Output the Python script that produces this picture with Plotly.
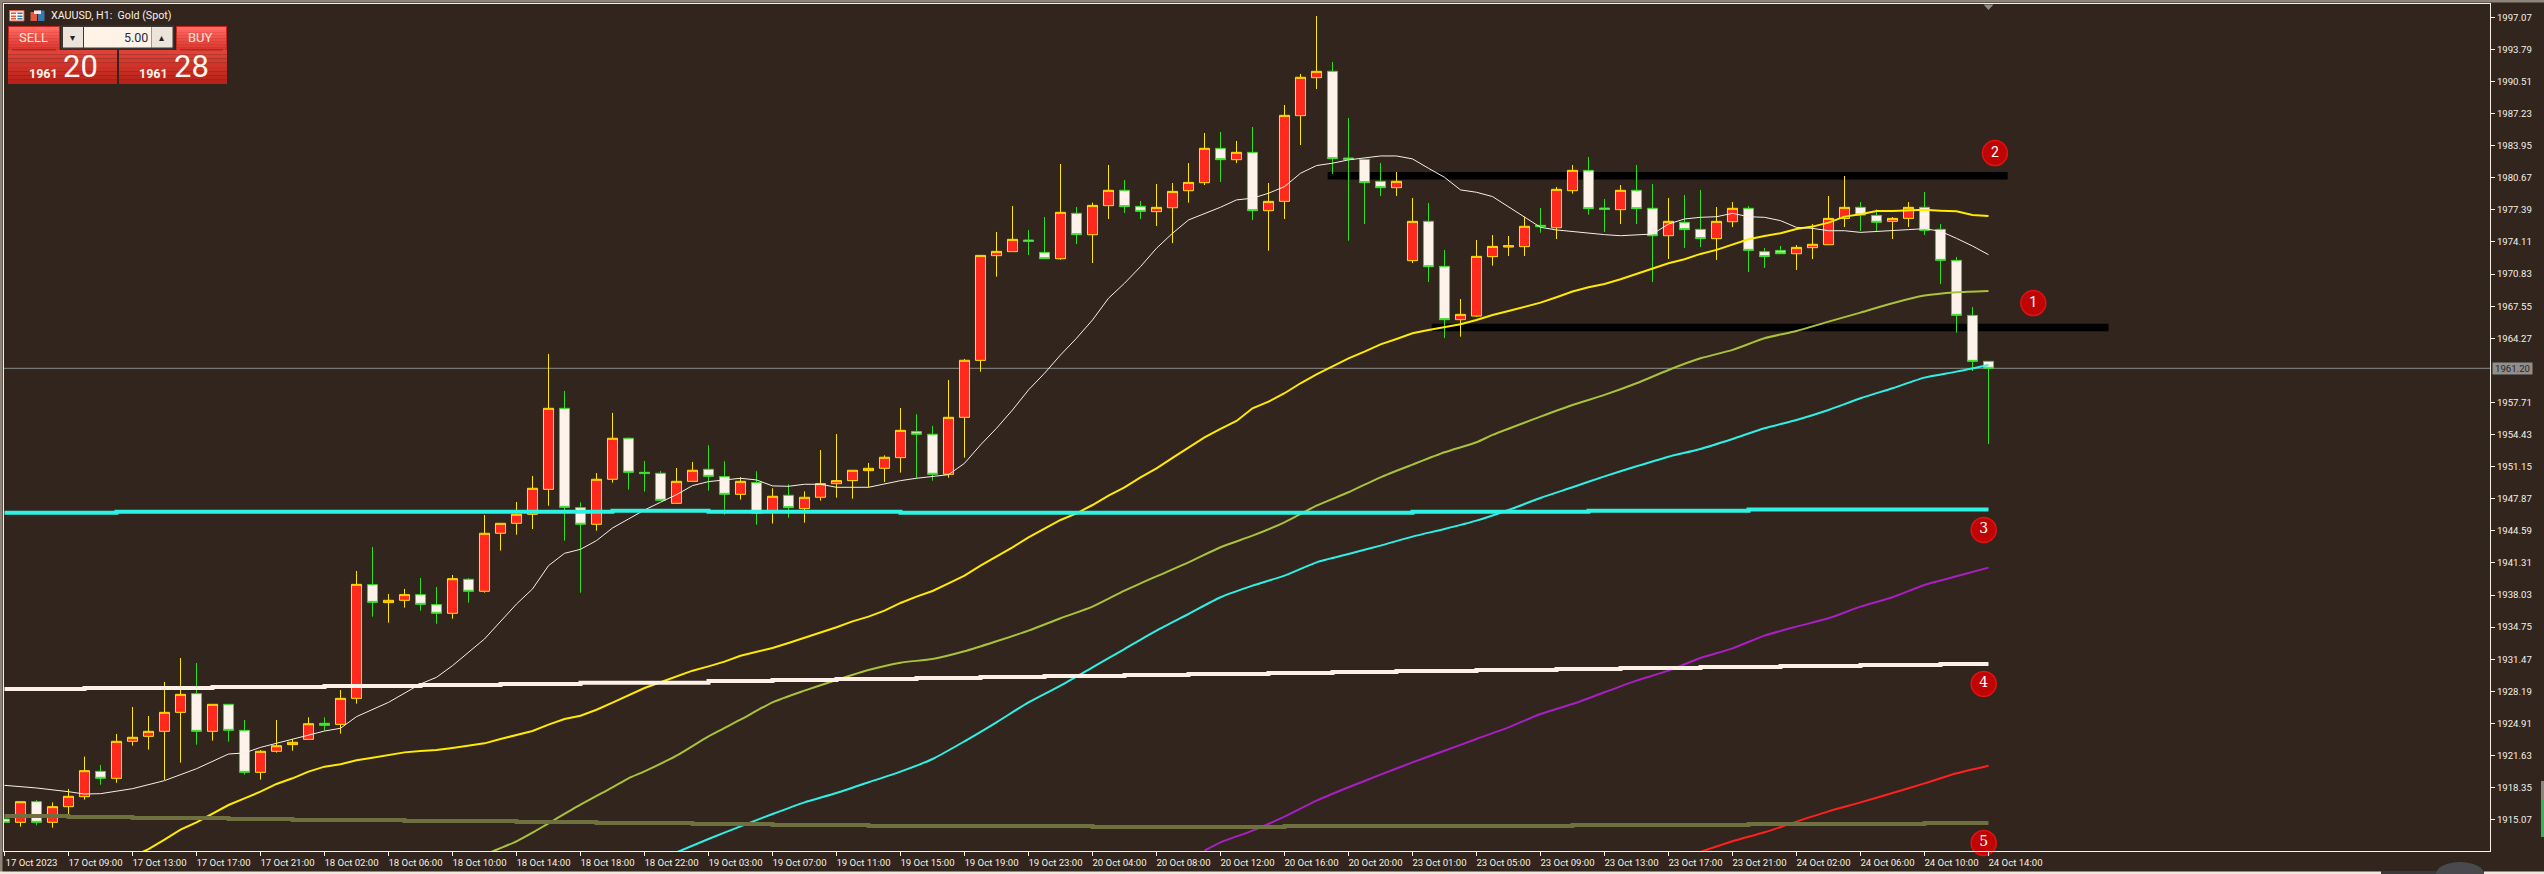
import plotly.graph_objects as go

# ---- candle data (17 Oct 05:00 .. 24 Oct 14:00, H1) ----
OPEN = [1915.14,1914.80,1916.91,1914.80,1916.40,1917.42,1920.01,1919.30,1923.08,1923.59,
        1924.10,1926.04,1927.95,1924.10,1926.86,1924.20,1919.91,1922.06,1922.74,1923.28,
        1924.92,1924.81,1927.47,1939.09,1937.25,1937.49,1938.07,1937.05,1936.16,1939.64,
        1938.41,1944.34,1945.36,1946.28,1948.83,1957.11,1946.96,1945.26,1949.86,1954.05,
        1950.57,1950.47,1947.40,1949.65,1950.88,1950.13,1948.32,1949.52,1946.48,1948.22,
        1946.86,1948.02,1949.41,1949.72,1950.74,1950.98,1952.07,1954.73,1954.46,1950.37,
        1956.19,1962.01,1972.71,1973.12,1974.31,1973.05,1972.40,1977.04,1974.85,1977.82,
        1979.39,1977.75,1977.21,1977.61,1979.35,1980.17,1983.68,1982.52,1983.27,1977.31,
        1978.26,1987.02,1990.90,1991.55,1982.69,1982.55,1980.31,1979.66,1972.20,1976.22,
        1971.62,1966.17,1966.54,1972.61,1973.59,1973.63,1975.81,1975.57,1979.35,1981.43,
        1977.58,1977.41,1979.39,1977.55,1974.75,1976.12,1975.40,1974.45,1976.18,1977.55,
        1973.12,1973.25,1972.91,1973.53,1973.83,1976.52,1977.65,1976.83,1976.22,1976.52,
        1977.65,1975.40,1972.23,1966.61,1961.91]
HIGH = [1915.14,1916.91,1917.08,1916.84,1918.21,1921.51,1920.66,1923.83,1926.59,1925.67,
        1929.14,1931.59,1931.08,1926.86,1926.86,1925.26,1922.19,1925.26,1923.32,1925.53,
        1925.53,1928.32,1940.49,1942.94,1938.14,1938.65,1939.77,1938.85,1940.08,1939.77,
        1946.21,1945.36,1947.54,1950.20,1962.67,1958.89,1947.51,1950.50,1956.64,1954.12,
        1951.73,1950.71,1951.01,1951.63,1953.33,1951.70,1950.06,1950.67,1948.94,1949.35,
        1948.63,1952.85,1954.49,1950.78,1951.53,1952.31,1957.15,1956.50,1955.31,1960.01,
        1962.16,1972.74,1975.13,1977.78,1975.33,1976.66,1982.08,1977.68,1978.13,1981.98,
        1980.44,1978.30,1980.03,1980.14,1982.18,1985.25,1985.35,1984.43,1985.86,1980.14,
        1988.11,1991.28,1997.20,1992.50,1986.78,1982.62,1982.18,1981.26,1978.60,1978.09,
        1973.29,1968.28,1974.31,1974.82,1974.72,1976.69,1977.58,1979.73,1981.98,1982.79,
        1978.50,1979.93,1981.98,1980.03,1978.60,1978.91,1979.42,1977.68,1978.19,1977.78,
        1973.49,1973.70,1973.80,1975.94,1978.81,1980.85,1978.19,1977.44,1976.66,1978.19,
        1979.22,1975.94,1972.57,1967.46,1961.91]
LOW = [1914.80,1914.36,1914.49,1914.25,1915.65,1917.12,1918.65,1918.85,1922.63,1922.23,
       1919.13,1920.90,1922.74,1923.15,1923.04,1919.67,1919.16,1921.92,1922.12,1923.28,
       1924.17,1923.86,1926.93,1935.82,1935.21,1936.74,1936.43,1935.10,1935.62,1937.25,
       1938.27,1942.57,1944.20,1944.78,1947.16,1943.59,1938.27,1944.61,1949.52,1948.80,
       1948.60,1947.64,1947.40,1949.62,1948.70,1946.25,1947.78,1945.22,1945.33,1945.94,
       1945.43,1947.68,1947.98,1947.88,1949.04,1949.58,1950.54,1949.96,1949.72,1950.03,
       1952.07,1960.85,1970.56,1973.12,1972.78,1972.40,1972.30,1973.90,1971.96,1976.46,
       1977.07,1976.46,1975.74,1974.00,1978.13,1979.93,1980.24,1982.18,1976.35,1973.22,
       1976.46,1984.02,1989.74,1981.06,1974.24,1975.94,1978.81,1978.81,1971.96,1970.02,
       1964.29,1964.43,1966.47,1971.69,1972.67,1972.67,1975.06,1974.41,1979.05,1976.90,
       1975.13,1975.94,1975.94,1970.02,1972.37,1973.49,1973.59,1972.27,1975.64,1971.04,
       1971.45,1972.91,1971.24,1972.37,1973.83,1975.64,1975.23,1975.23,1974.41,1975.64,
       1974.82,1969.81,1964.84,1960.92,1953.46]
CLOSE = [1914.80,1916.91,1914.80,1916.40,1917.46,1920.08,1919.30,1923.08,1923.49,1924.10,
         1926.04,1927.88,1924.10,1926.86,1924.20,1919.91,1922.06,1922.63,1922.98,1924.88,
         1924.71,1927.47,1939.12,1937.28,1937.49,1938.07,1937.08,1936.16,1939.70,1938.41,
         1944.34,1945.36,1946.28,1948.94,1957.11,1946.99,1945.26,1949.86,1954.05,1950.57,
         1950.44,1947.71,1949.65,1950.78,1950.16,1948.32,1949.65,1946.38,1948.12,1946.96,
         1948.02,1949.41,1949.72,1950.78,1950.98,1952.11,1954.86,1954.46,1950.37,1956.19,
         1962.02,1972.74,1973.15,1974.38,1974.17,1972.40,1977.14,1974.85,1977.85,1979.39,
         1977.72,1977.24,1977.65,1979.28,1980.20,1983.68,1982.52,1983.27,1977.31,1978.26,
         1987.05,1990.94,1991.55,1982.62,1982.55,1980.17,1979.66,1980.31,1976.22,1971.58,
         1966.17,1966.71,1972.64,1973.66,1973.73,1975.71,1975.67,1979.49,1981.43,1977.51,
         1977.44,1979.39,1977.51,1974.75,1976.22,1975.37,1974.45,1976.22,1977.55,1973.25,
         1972.61,1972.91,1973.56,1973.87,1976.52,1977.65,1976.86,1976.12,1976.52,1977.65,
         1975.30,1972.23,1966.61,1961.91,1961.20]

# ---- moving averages: bar index and value ----
MA_WHITE_X = [0,2,4,5,6,8,10,12,14,15,16,18,20,21,22,24,26,27,28,30,32,33,34,35,36,37,38,39,40,41,
              42,43,44,45,46,47,48,49,50,51,52,54,56,57,59,60,61,62,63,64,65,66,67,68,69,70,71,72,
              73,74,75,76,77,78,79,80,81,82,83,84,85,86,87,88,89,90,91,92,93,94,95,96,97,98,99,100,
              101,102,103,104,105,106,107,108,109,110,111,112,113,114,115,116,117,118,119,120,121,122,123,124]
MA_WHITE_Y = [1918.58,1918.31,1917.93,1917.69,1917.73,1918.24,1919.06,1920.28,1921.78,1921.89,1922.46,
              1923.32,1924.13,1924.41,1925.60,1927.06,1928.94,1929.62,1930.81,1933.54,1937.11,1938.65,
              1941.03,1942.29,1942.70,1943.59,1944.88,1945.80,1946.72,1947.51,1948.29,1949.21,1949.62,
              1949.79,1949.96,1949.79,1949.18,1949.14,1949.35,1949.35,1949.04,1949.04,1949.72,1949.96,
              1950.33,1951.49,1953.37,1955.07,1956.94,1958.99,1960.69,1962.56,1964.27,1966.14,1968.36,
              1969.89,1971.59,1973.47,1975.00,1976.36,1976.98,1977.66,1978.41,1978.58,1979.09,1979.77,
              1981.13,1981.92,1982.16,1982.50,1982.70,1982.90,1982.90,1982.60,1981.64,1980.72,1979.43,
              1979.19,1978.75,1977.73,1976.70,1975.61,1975.34,1975.17,1975.00,1974.86,1974.75,1974.85,
              1974.92,1975.94,1976.46,1976.63,1976.69,1977.04,1976.69,1976.63,1976.29,1975.60,1975.50,
              1975.26,1975.26,1975.09,1975.16,1975.23,1975.37,1975.47,1975.20,1974.48,1973.70,1972.81]
MA_YELLOW_X = list(range(8, 125))
MA_YELLOW_Y = [1911.29,1912.07,1913.03,1914.05,1914.80,1915.65,1916.57,1917.25,1917.93,1918.72,1919.30,
               1919.98,1920.49,1920.73,1921.14,1921.41,1921.71,1921.95,1922.09,1922.19,1922.40,1922.60,
               1922.87,1923.32,1923.69,1924.13,1924.78,1925.36,1925.70,1926.31,1927.03,1927.81,1928.53,
               1929.11,1929.72,1930.30,1930.74,1931.22,1931.83,1932.24,1932.62,1933.13,1933.64,1934.15,
               1934.73,1935.34,1935.82,1936.43,1937.22,1937.86,1938.44,1939.23,1940.01,1941.03,1941.95,
               1942.91,1943.93,1944.78,1945.70,1946.38,1947.23,1948.19,1949.04,1950.06,1950.98,1952.04,
               1953.06,1954.15,1955.00,1955.82,1957.11,1957.79,1958.65,1959.67,1960.59,1961.37,1962.22,
               1962.91,1963.65,1964.20,1964.78,1965.12,1965.39,1965.70,1966.14,1966.65,1967.06,1967.50,
               1967.91,1968.46,1969.04,1969.48,1969.82,1970.30,1970.84,1971.39,1971.93,1972.34,1972.89,
               1973.30,1973.88,1974.39,1974.73,1975.00,1975.44,1975.68,1976.09,1976.70,1976.94,1977.28,
               1977.27,1977.34,1977.41,1977.31,1977.24,1976.86,1976.76]
MA_OLIVE_X = [30,32,33,34,36,38,39,40,42,44,46,48,50,52,54,56,58,60,62,64,66,68,70,72,74,76,78,80,82,84,
              86,88,90,92,93,96,98,100,102,104,106,108,110,112,114,116,118,120,122,124]
MA_OLIVE_Y = [1911.49,1912.86,1913.74,1914.70,1916.60,1918.38,1919.30,1920.01,1921.61,1923.59,1925.29,
              1927.06,1928.26,1929.35,1930.37,1931.12,1931.49,1932.28,1933.30,1934.39,1935.65,1936.84,
              1938.48,1939.94,1941.37,1942.91,1944.10,1945.46,1947.16,1948.53,1950.06,1951.36,1952.62,
              1953.64,1954.39,1956.26,1957.45,1958.48,1959.67,1961.03,1962.22,1963.08,1964.27,1965.02,
              1965.97,1966.89,1967.85,1968.63,1968.97,1969.11]
MA_CYAN_X = list(range(42, 125, 2))
MA_CYAN_Y = [1911.73,1913.10,1914.39,1915.65,1916.84,1917.80,1918.89,1919.98,1921.27,1923.08,1925.02,
             1927.06,1928.77,1930.64,1932.51,1934.39,1936.09,1937.80,1938.99,1940.01,1941.37,1942.22,
             1943.08,1944.00,1944.78,1945.63,1946.72,1947.95,1949.04,1950.16,1951.19,1952.17,1952.96,
             1953.98,1955.07,1955.92,1956.94,1958.14,1959.16,1960.25,1960.86,1961.54]
MA_PURPLE_X = [75] + list(range(76, 125, 2))
MA_PURPLE_Y = [1911.90,1912.75,1913.95,1915.38,1917.01,1918.38,1919.67,1920.93,1922.12,1923.32,1924.51,
               1925.87,1926.89,1928.09,1929.28,1930.30,1931.59,1932.58,1933.88,1934.80,1935.65,1936.84,
               1937.80,1939.06,1939.94,1940.83]
MA_RED_X = list(range(106, 125, 2))
MA_RED_Y = [1911.77,1912.86,1913.78,1914.87,1915.92,1916.84,1917.80,1918.78,1919.81,1920.59]

# ---- stepped (higher-timeframe) averages ----
STEP_CYAN_X = [0,7,38,44,56,88,99,109,124]
STEP_CYAN_Y = [1946.45,1946.55,1946.65,1946.55,1946.45,1946.55,1946.65,1946.76,1946.76]
STEP_WHITE_X = [0,5,13,20,26,31,36,44,48,52,57,61,65,70,74,79,83,87,92,97,101,106,111,116,121,124]
STEP_WHITE_Y = [1928.43,1928.53,1928.63,1928.73,1928.84,1928.94,1929.07,1929.24,1929.35,1929.45,1929.55,
                1929.65,1929.76,1929.86,1929.96,1930.06,1930.16,1930.27,1930.37,1930.47,1930.57,1930.67,
                1930.78,1930.88,1930.98,1930.98]
STEP_OLIVE_X = [0,4,8,14,18,25,32,37,43,48,54,68,80,98,109,120,124]
STEP_OLIVE_Y = [1915.45,1915.34,1915.24,1915.14,1915.04,1914.93,1914.83,1914.73,1914.63,1914.53,1914.42,
                1914.32,1914.42,1914.53,1914.63,1914.73,1914.73]

# ---- drawn levels, badges, labels ----
LEVEL_TOP_X, LEVEL_TOP_Y = [82.7, 125.2], 1980.89
LEVEL_LOW_X, LEVEL_LOW_Y = [89.2, 131.5], 1965.38
BADGE_LABELS = ["1", "2", "3", "4", "5"]
BADGE_X = [126.8, 124.4, 123.7, 123.7, 123.7]
BADGE_Y = [1967.87, 1983.20, 1944.68, 1928.94, 1912.69]
LAST_PRICE = 1961.20
Y_TICKS = [1997.07,1993.79,1990.51,1987.23,1983.95,1980.67,1977.39,1974.11,1970.83,1967.55,1964.27,
           1957.71,1954.43,1951.15,1947.87,1944.59,1941.31,1938.03,1934.75,1931.47,1928.19,1924.91,
           1921.63,1918.35,1915.07]
X_LABELS = ["17 Oct 2023","17 Oct 09:00","17 Oct 13:00","17 Oct 17:00","17 Oct 21:00","18 Oct 02:00",
            "18 Oct 06:00","18 Oct 10:00","18 Oct 14:00","18 Oct 18:00","18 Oct 22:00","19 Oct 03:00",
            "19 Oct 07:00","19 Oct 11:00","19 Oct 15:00","19 Oct 19:00","19 Oct 23:00","20 Oct 04:00",
            "20 Oct 08:00","20 Oct 12:00","20 Oct 16:00","20 Oct 20:00","23 Oct 01:00","23 Oct 05:00",
            "23 Oct 09:00","23 Oct 13:00","23 Oct 17:00","23 Oct 21:00","24 Oct 02:00","24 Oct 06:00",
            "24 Oct 10:00","24 Oct 14:00"]
X_TICKS = list(range(0, 125, 4))

W, H = 2544, 874
ML, MR, MT, MB = 4, 54, 4, 23
PW, PH = W - ML - MR, H - MT - MB
BG = "#31251d"
INK = "#f6f0e8"
AXFONT = "Roboto, sans-serif"
AXSIZE = 9.6
UI = "Roboto, sans-serif"

def px(v):
    return (v - ML) / PW

def py(v):
    return 1 - (v - MT) / PH

fig = go.Figure()
fig.add_trace(go.Candlestick(
    x=list(range(len(OPEN))), open=OPEN, high=HIGH, low=LOW, close=CLOSE,
    increasing=dict(fillcolor="#ff2a1c", line=dict(color="#ffe600", width=1)),
    decreasing=dict(fillcolor="#fdf3ea", line=dict(color="#2fe020", width=1)),
    whiskerwidth=0, hoverinfo="skip", showlegend=False))

def line(x, y, color, width, shape="linear"):
    ln = dict(color=color, width=width, shape=shape)
    if shape == "spline":
        ln["smoothing"] = 0.6
    fig.add_trace(go.Scatter(x=x, y=y, mode="lines", hoverinfo="skip", showlegend=False, line=ln))

line(MA_OLIVE_X, MA_OLIVE_Y, "#a9c23a", 2, "spline")
line(MA_CYAN_X, MA_CYAN_Y, "#2ff0e6", 2, "spline")
line(MA_PURPLE_X, MA_PURPLE_Y, "#a81fc4", 2, "spline")
line(MA_RED_X, MA_RED_Y, "#ff2020", 2, "spline")
line(MA_YELLOW_X, MA_YELLOW_Y, "#ffea00", 2)
line(MA_WHITE_X, MA_WHITE_Y, "#f6f0e8", 1)
line(STEP_OLIVE_X, STEP_OLIVE_Y, "#6f7040", 4, "hv")
line(STEP_WHITE_X, STEP_WHITE_Y, "#fdf1e7", 4, "hv")
line(STEP_CYAN_X, STEP_CYAN_Y, "#2ef2e2", 4, "hv")

fig.add_trace(go.Scatter(
    x=BADGE_X, y=BADGE_Y, mode="markers+text", text=BADGE_LABELS, textposition="middle center",
    textfont=dict(color="#ffffff", size=14,
                  family=["Roboto", "Roboto", "DejaVu Serif", "DejaVu Serif", "DejaVu Serif"]),
    marker=dict(size=25, color="#bf0404", line=dict(color="#e01212", width=1.5)),
    cliponaxis=False, hoverinfo="skip", showlegend=False))

shapes = []
annots = []

def rect(x0, y0, x1, y1, fill, border=None, bw=1):
    shapes.append(dict(type="rect", xref="paper", yref="paper", x0=px(x0), x1=px(x1), y0=py(y0), y1=py(y1),
                       fillcolor=fill, line=dict(color=border or fill, width=bw if border else 0), layer="above"))

def label(x, y, text, size, color, anchor="center", family=UI, bold=False):
    t = f"<b>{text}</b>" if bold else text
    annots.append(dict(xref="paper", yref="paper", x=px(x), y=py(y), text=t, showarrow=False, xanchor=anchor,
                       yanchor="middle", font=dict(size=size, color=color, family=family), borderpad=0))

def gradient(x0, y0, x1, y1, top, bottom, steps=8):
    c0 = [int(top[i:i + 2], 16) for i in (1, 3, 5)]
    c1 = [int(bottom[i:i + 2], 16) for i in (1, 3, 5)]
    for k in range(steps):
        f = k / (steps - 1)
        col = "#%02x%02x%02x" % tuple(round(a + (b - a) * f) for a, b in zip(c0, c1))
        rect(x0, y0 + (y1 - y0) * k / steps, x1, y0 + (y1 - y0) * (k + 1) / steps, col)

# levels, price line, window frame
shapes.append(dict(type="line", xref="x", yref="y", x0=LEVEL_TOP_X[0], x1=LEVEL_TOP_X[1], y0=LEVEL_TOP_Y,
                   y1=LEVEL_TOP_Y, line=dict(color="#000000", width=7.5), layer="below"))
shapes.append(dict(type="line", xref="x", yref="y", x0=LEVEL_LOW_X[0], x1=LEVEL_LOW_X[1], y0=LEVEL_LOW_Y,
                   y1=LEVEL_LOW_Y, line=dict(color="#000000", width=7.5), layer="below"))
shapes.append(dict(type="line", xref="paper", yref="y", x0=0, x1=1, y0=LAST_PRICE, y1=LAST_PRICE,
                   line=dict(color="#8c8c8a", width=1), layer="below"))
rect(0, 0, W, 2.5, "#8d857a")
rect(0, 0, 2.5, H, "#8d857a")
rect(0, 871.5, W, H, "#efe9e0")
rect(2541, 781, W, 800, "#8d857a")
rect(2541, 800, W, 837, "#3fae5e")
shapes.append(dict(type="path", xref="paper", yref="paper", layer="above",
                   path=f"M {px(1983.5)} {py(4.5)} L {px(1993.5)} {py(4.5)} L {px(1988.5)} {py(10)} Z",
                   fillcolor="#8c8c8a", line=dict(width=0)))
rect(2381, 871, 2484, H, "#3a3a3c")
shapes.append(dict(type="circle", xref="paper", yref="paper", layer="above", x0=px(2436), x1=px(2484), y0=py(862),
                   y1=py(886), fillcolor="#4a4a4e", line=dict(width=0)))

# one-click trading panel
rect(8, 26, 60, 50, "#c8261c")
gradient(9, 27, 59, 50, "#ff6a62", "#d83830")
rect(176, 26, 227, 50, "#c8261c")
gradient(177, 27, 226, 50, "#ff6a62", "#d83830")
gradient(8, 50, 117, 84, "#de4238", "#b92218")
gradient(119, 50, 227, 84, "#de4238", "#b92218")
rect(12, 49, 56, 50.5, "#b3271e")
rect(180, 49, 223, 50.5, "#b3271e")
rect(61, 25.5, 174, 49.5, "#3b3832")
rect(63, 27, 83, 47.5, "#ece3da")
rect(84, 27, 151.5, 47.5, "#fff3e8")
rect(152, 27, 172.5, 47.5, "#ece3da")
label(33, 38, "SELL", 13, "#ffe6dc")
label(200, 38, "BUY", 13, "#ffe6dc")
label(148.5, 37, "5.00", 12.5, "#1e2c44", "right")
label(72.5, 37, "▾", 10, "#222222")
label(161.5, 37, "▴", 10, "#222222")
label(58.5, 74, "1961", 12.5, "#fff2ea", "right", bold=True)
label(62, 67, "20", 31, "#fff5ef", "left")
label(168.5, 74, "1961", 12.5, "#fff2ea", "right", bold=True)
label(173, 67, "28", 31, "#fff5ef", "left")

# title + icons
label(50, 15.5, "XAUUSD, H1:\u00a0 Gold (Spot)", 10.7, "#f6f0e8", "left")
rect(9.5, 10.5, 24, 21, "#fdf3ea", "#e4573f", 1)
rect(11, 12.5, 16, 14, "#e4573f")
rect(11, 15.5, 16, 17, "#e4573f")
rect(11, 18, 16, 19.5, "#e4573f")
rect(17.5, 12.5, 22.5, 14, "#3c78b0")
rect(17.5, 15.5, 22.5, 17, "#3c78b0")
rect(17.5, 18, 22.5, 19.5, "#3c78b0")
rect(30.5, 12, 37, 21, "#e4573f")
rect(38, 10.5, 44.5, 21, "#3c78b0")
rect(34, 10.5, 41, 14, "#f2ece4")

# current-price box on the scale
annots.append(dict(xref="paper", yref="y", x=px(2492), y=LAST_PRICE, xanchor="left", yanchor="middle", showarrow=False,
                   text=f"{LAST_PRICE:.2f}", bgcolor="#8f8f8d", width=39, height=11, borderpad=0,
                   font=dict(size=AXSIZE, color="#31251d", family=AXFONT)))

fig.update_layout(
    width=W, height=H, margin=dict(l=ML, r=MR, t=MT, b=MB, pad=0), autosize=False,
    paper_bgcolor=BG, plot_bgcolor=BG, showlegend=False, boxgap=0.37, boxgroupgap=0,
    shapes=shapes, annotations=annots, hovermode=False,
    font=dict(family=AXFONT, size=AXSIZE, color=INK),
    xaxis=dict(range=[-0.03125, -0.03125 + PW / 16], tickvals=X_TICKS, ticktext=X_LABELS, tickmode="array",
               ticks="outside", ticklen=4, tickwidth=1, tickcolor=INK, ticklabelshift=27, ticklabelstandoff=-2,
               tickfont=dict(size=AXSIZE, color=INK, family=AXFONT), tickangle=0,
               showgrid=False, zeroline=False, showline=True, linecolor=INK, linewidth=1, mirror=True,
               rangeslider=dict(visible=False), fixedrange=True),
    yaxis=dict(range=[1911.87, 1998.43], side="right", tickvals=Y_TICKS, ticktext=[f"{v:.2f}" for v in Y_TICKS],
               tickmode="array", ticks="outside", ticklen=4, tickwidth=1, tickcolor=INK,
               tickfont=dict(size=AXSIZE, color=INK, family=AXFONT),
               showgrid=False, zeroline=False, showline=True, linecolor=INK, linewidth=1, mirror=True,
               fixedrange=True),
)

fig.write_html("out.html", config=dict(displayModeBar=False),
               post_script="document.body.style.margin='0';document.body.style.overflow='hidden';")
